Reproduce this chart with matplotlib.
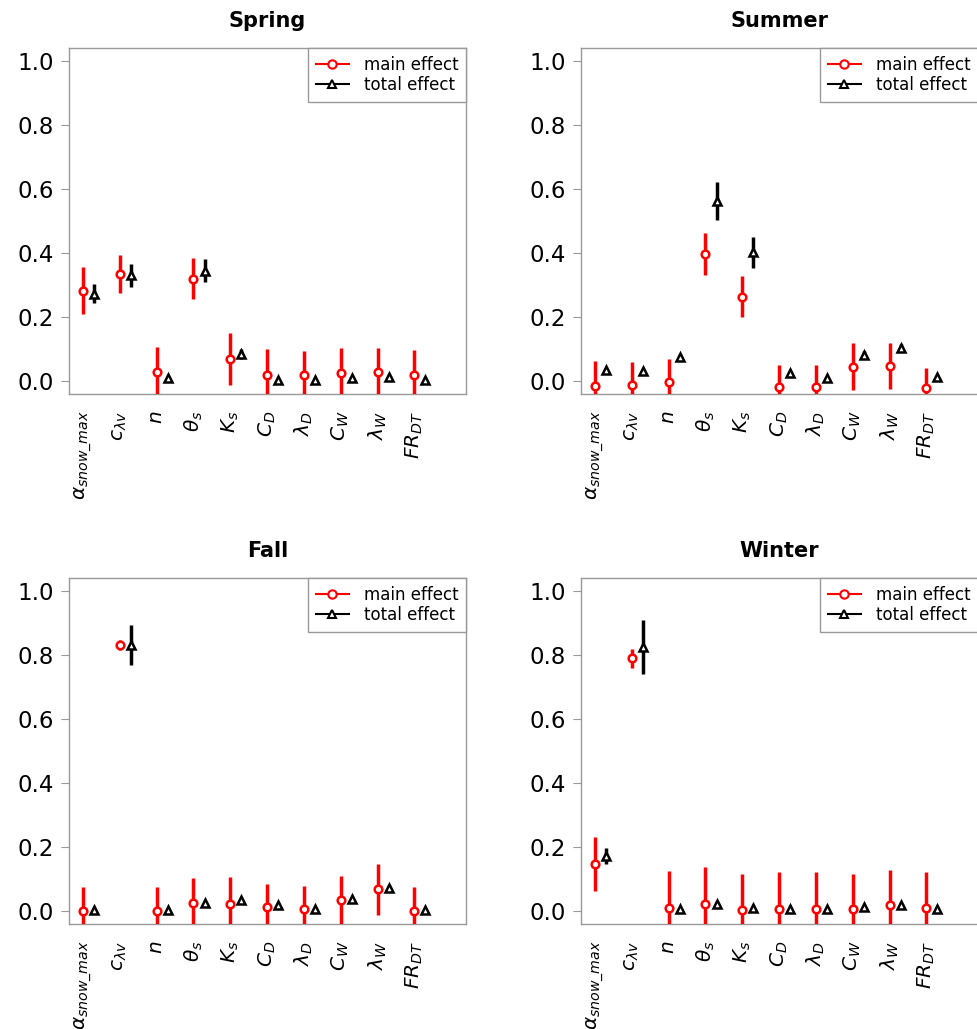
import numpy as np
import matplotlib
matplotlib.use("Agg")
import matplotlib.pyplot as plt
from matplotlib.lines import Line2D

# parameter labels (x axis)
params = [r'$\alpha_{snow\_max}$', r'$c_{\lambda v}$', r'$n$', r'$\theta_s$', r'$K_s$',
          r'$C_D$', r'$\lambda_D$', r'$C_W$', r'$\lambda_W$', r'$FR_{DT}$']

seasons = ['Spring', 'Summer', 'Fall', 'Winter']

# main effect (first order index) and its half-width
spring_main     = [0.282, 0.334, 0.028, 0.319, 0.069, 0.018, 0.019, 0.024, 0.028, 0.018]
spring_main_err = [0.073, 0.059, 0.079, 0.064, 0.080, 0.081, 0.076, 0.081, 0.076, 0.079]
spring_tot      = [0.273, 0.331, 0.011, 0.345, 0.086, 0.005, 0.003, 0.011, 0.013, 0.005]
spring_tot_err  = [0.030, 0.036, 0.004, 0.035, 0.016, 0.003, 0.003, 0.004, 0.004, 0.003]

summer_main     = [-0.016, -0.011, -0.003, 0.397, 0.264, -0.019, -0.019, 0.045, 0.048, -0.020]
summer_main_err = [0.079, 0.070, 0.073, 0.064, 0.065, 0.068, 0.068, 0.073, 0.072, 0.062]
summer_tot      = [0.034, 0.032, 0.074, 0.562, 0.402, 0.026, 0.011, 0.081, 0.105, 0.013]
summer_tot_err  = [0.004, 0.004, 0.012, 0.060, 0.048, 0.004, 0.004, 0.012, 0.012, 0.004]

fall_main       = [0.000, 0.832, 0.002, 0.026, 0.023, 0.014, 0.008, 0.035, 0.068, 0.002]
fall_main_err   = [0.076, 0.016, 0.074, 0.077, 0.084, 0.071, 0.071, 0.075, 0.080, 0.074]
fall_tot        = [0.005, 0.830, 0.005, 0.026, 0.036, 0.019, 0.008, 0.039, 0.072, 0.005]
fall_tot_err    = [0.003, 0.063, 0.003, 0.004, 0.004, 0.004, 0.003, 0.004, 0.005, 0.003]

winter_main     = [0.147, 0.789, 0.009, 0.023, 0.003, 0.008, 0.006, 0.006, 0.018, 0.009]
winter_main_err = [0.084, 0.030, 0.116, 0.115, 0.114, 0.114, 0.117, 0.111, 0.112, 0.113]
winter_tot      = [0.172, 0.825, 0.008, 0.023, 0.009, 0.008, 0.006, 0.014, 0.020, 0.008]
winter_tot_err  = [0.025, 0.085, 0.003, 0.004, 0.003, 0.003, 0.003, 0.003, 0.004, 0.003]

data = {
    'Spring': (spring_main, spring_main_err, spring_tot, spring_tot_err),
    'Summer': (summer_main, summer_main_err, summer_tot, summer_tot_err),
    'Fall':   (fall_main, fall_main_err, fall_tot, fall_tot_err),
    'Winter': (winter_main, winter_main_err, winter_tot, winter_tot_err),
}

W, H = 978, 1029
fig = plt.figure(figsize=(W / 100, H / 100), dpi=100)

# axes boxes in pixels: left, top
boxes = {'Spring': (69, 48), 'Summer': (581, 48), 'Fall': (69, 578), 'Winter': (581, 578)}
aw, ah = 397, 346

x = np.arange(len(params))
spine_col = '#999999'

for s in seasons:
    l, t = boxes[s]
    ax = fig.add_axes([l / W, (H - t - ah) / H, aw / W, ah / H])
    m, me, tt, te = data[s]

    ax.errorbar(x, m, yerr=me, fmt='o', color='red', ecolor='red', elinewidth=2.5,
                mfc='white', mec='red', mew=1.8, ms=5.5, capsize=0, zorder=3)
    ax.errorbar(x + 0.3, tt, yerr=te, fmt='^', color='black', ecolor='black', elinewidth=2.5,
                mfc='white', mec='black', mew=1.8, ms=5.5, capsize=0, zorder=3)

    ax.set_xlim(-0.38, 10.4)
    ax.set_ylim(-0.04, 1.04)
    ax.set_yticks([0.0, 0.2, 0.4, 0.6, 0.8, 1.0])
    ax.set_yticklabels(['0.0', '0.2', '0.4', '0.6', '0.8', '1.0'])
    ax.set_xticks(x)
    ax.set_xticklabels(params, rotation=90, fontsize=14.5)
    ax.tick_params(axis='y', labelsize=16.5, length=6, color=spine_col, pad=5)
    ax.tick_params(axis='x', length=0, pad=12)
    for sp in ax.spines.values():
        sp.set_color(spine_col)
        sp.set_linewidth(1.0)

    ax.set_title(s, fontsize=15, fontweight='bold', pad=15)

    handles = [Line2D([0], [0], color='red', marker='o', mfc='white', mec='red', ms=6, mew=1.5, lw=1.5),
               Line2D([0], [0], color='black', marker='^', mfc='white', mec='black', ms=6, mew=1.5, lw=1.5)]
    leg = ax.legend(handles, ['main effect', 'total effect'], loc='upper right',
                    borderaxespad=0, fancybox=False, fontsize=12, framealpha=1,
                    edgecolor=spine_col, labelspacing=0.15, borderpad=0.45,
                    handletextpad=0.9)
    leg.get_frame().set_linewidth(1.0)

fig.savefig('out.png', dpi=100)
